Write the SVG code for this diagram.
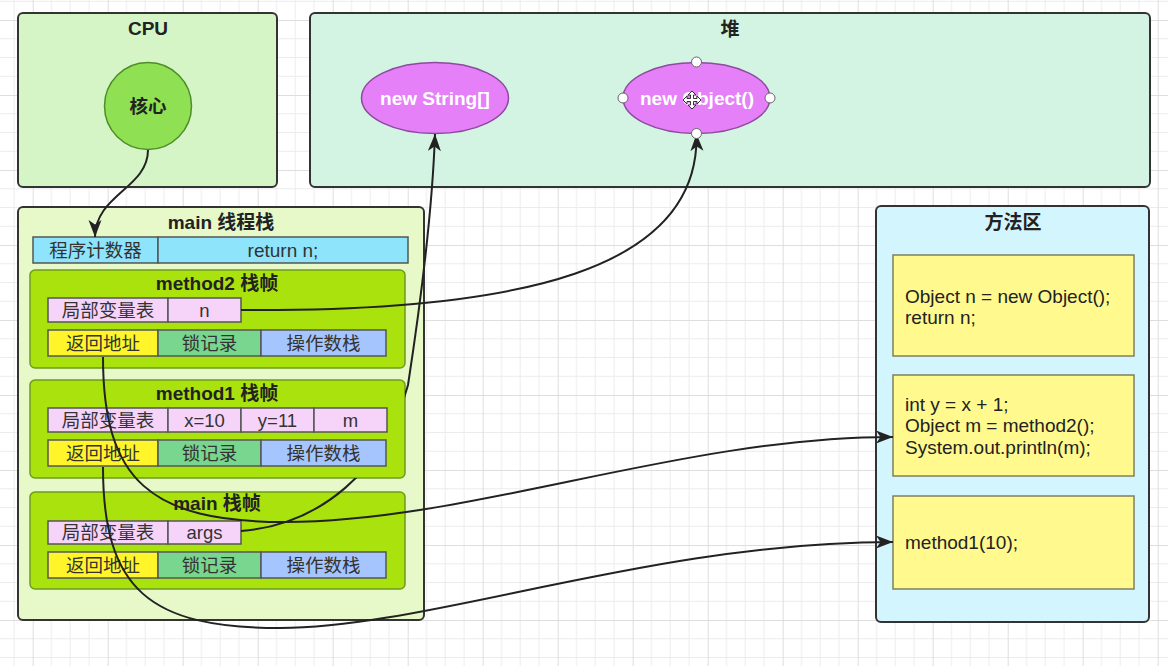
<svg xmlns="http://www.w3.org/2000/svg" width="1168" height="666" viewBox="0 0 1168 666">
<defs>
<pattern id="grid" x="32.7" y="20" width="75" height="75" patternUnits="userSpaceOnUse">
<path d="M18.75,0V75M37.5,0V75M56.25,0V75M0,18.75H75M0,37.5H75M0,56.25H75" stroke="#ececec" stroke-width="1" fill="none"/>
<path d="M0.5,0V75M0,0.5H75" stroke="#dedede" stroke-width="1" fill="none"/>
</pattern>
<marker id="arr" markerWidth="18" markerHeight="14" refX="17" refY="6.5" orient="auto" markerUnits="userSpaceOnUse">
<path d="M0,0 L17,6.5 L0,13 L4.5,6.5 z" fill="#222"/>
</marker>
<mask id="hideM1" maskUnits="userSpaceOnUse" x="0" y="0" width="1168" height="666">
<rect x="0" y="0" width="1168" height="666" fill="#fff"/>
<rect x="30" y="380" width="375" height="98" fill="#000"/>
</mask>
<style>
text{font-family:"Liberation Sans","Noto Sans CJK SC",sans-serif;fill:#333;dominant-baseline:central;text-anchor:middle}
.t{font-weight:bold;font-size:19px;fill:#222}
.c{font-size:18.5px}
.code{font-size:19px;text-anchor:start;fill:#222}
.box{stroke:#333;stroke-width:2}
.frame{fill:#aae20d;stroke:#6e9c1c;stroke-width:1.5}
.cell{stroke:#555;stroke-width:1.5}
.pink{fill:#f6d4f9}
.yel{fill:#fff52a}
.grn{fill:#78d68f}
.blu{fill:#a4c5fd}
.codebox{fill:#fff98e;stroke:#7f7f60;stroke-width:1.5}
.ell{fill:#e680f8;stroke:#8e4a9e;stroke-width:1.5}
.et{font-weight:bold;font-size:19px;fill:#fff}
.conn{fill:none;stroke:#222;stroke-width:2}
.handle{fill:#fff;stroke:#666;stroke-width:1}
</style>
</defs>
<rect x="0" y="0" width="1168" height="666" fill="#fff"/>
<rect x="0" y="0" width="1168" height="666" fill="url(#grid)"/>

<g id="cpu">
<rect class="box" x="18" y="13" width="259" height="174" rx="5" fill="#d5f5c6"/>
<text class="t" x="148" y="28" font-size="18">CPU</text>
</g>
<g id="core">
<circle cx="148" cy="106" r="43.5" fill="#8fe053" stroke="#4f8c2a" stroke-width="1.5"/>
<text class="t" x="148" y="106" style="font-size:18.5px">核心</text>
</g>

<g id="heap">
<rect class="box" x="310" y="13" width="840" height="174" rx="5" fill="#d3f3e3"/>
<text class="t" x="730" y="29">堆</text>
</g>
<g id="new-string">
<ellipse class="ell" cx="435" cy="98" rx="73.5" ry="35.5"/>
<text class="et" x="435" y="98">new String[]</text>
</g>
<g id="new-object">
<ellipse class="ell" cx="696.5" cy="98" rx="73.5" ry="35.5"/>
<text class="et" x="697" y="98">new Object()</text>
</g>

<g id="main-thread-stack">
<rect class="box" x="18" y="207" width="406" height="413" rx="5" fill="#e7f8c9"/>
<text class="t" x="221" y="222">main 线程栈</text>
</g>
<g id="pc">
<rect class="cell" x="33" y="237" width="125" height="26" fill="#8ee4fb"/>
<rect class="cell" x="158" y="237" width="250" height="26" fill="#8ee4fb"/>
<text class="c" x="95.5" y="250">程序计数器</text>
<text class="c" x="283" y="250" style="font-size:19px">return n;</text>
</g>

<g id="method2-frame">
<rect class="frame" x="30" y="270" width="375" height="98" rx="5"/>
<text class="t" x="217" y="283">method2 栈帧</text>
<rect class="cell pink" x="48" y="298" width="120" height="24"/>
<rect class="cell pink" x="168" y="298" width="73" height="24"/>
<text class="c" x="108" y="310">局部变量表</text>
<text class="c" x="204.5" y="310">n</text>
<rect class="cell yel" x="48" y="330" width="110" height="26"/>
<rect class="cell grn" x="158" y="330" width="103" height="26"/>
<rect class="cell blu" x="261" y="330" width="125" height="26"/>
<text class="c" x="103" y="343">返回地址</text>
<text class="c" x="209.5" y="343">锁记录</text>
<text class="c" x="323.5" y="343">操作数栈</text>
</g>

<g id="method1-frame">
<rect class="frame" x="30" y="380" width="375" height="98" rx="5"/>
<text class="t" x="217" y="393">method1 栈帧</text>
<rect class="cell pink" x="48" y="408" width="120" height="24"/>
<rect class="cell pink" x="168" y="408" width="73" height="24"/>
<rect class="cell pink" x="241" y="408" width="73" height="24"/>
<rect class="cell pink" x="314" y="408" width="73" height="24"/>
<text class="c" x="108" y="420">局部变量表</text>
<text class="c" x="204.5" y="420">x=10</text>
<text class="c" x="277.5" y="420">y=11</text>
<text class="c" x="350.5" y="420">m</text>
<rect class="cell yel" x="48" y="440" width="110" height="26"/>
<rect class="cell grn" x="158" y="440" width="103" height="26"/>
<rect class="cell blu" x="261" y="440" width="125" height="26"/>
<text class="c" x="103" y="453">返回地址</text>
<text class="c" x="209.5" y="453">锁记录</text>
<text class="c" x="323.5" y="453">操作数栈</text>
</g>

<g id="main-frame">
<rect class="frame" x="30" y="492" width="375" height="97" rx="5"/>
<text class="t" x="217" y="503">main 栈帧</text>
<rect class="cell pink" x="48" y="521" width="120" height="23"/>
<rect class="cell pink" x="168" y="521" width="73" height="23"/>
<text class="c" x="108" y="532.5">局部变量表</text>
<text class="c" x="204.5" y="532.5">args</text>
<rect class="cell yel" x="48" y="552" width="110" height="26"/>
<rect class="cell grn" x="158" y="552" width="103" height="26"/>
<rect class="cell blu" x="261" y="552" width="125" height="26"/>
<text class="c" x="103" y="565">返回地址</text>
<text class="c" x="209.5" y="565">锁记录</text>
<text class="c" x="323.5" y="565">操作数栈</text>
</g>

<g id="method-area">
<rect class="box" x="876" y="206" width="273" height="416" rx="5" fill="#d3f5fd"/>
<text class="t" x="1013" y="222">方法区</text>
</g>
<g id="code-method2">
<rect class="codebox" x="893" y="255" width="241" height="101"/>
<text class="code" x="905" y="296">Object n = new Object();</text>
<text class="code" x="905" y="317">return n;</text>
</g>
<g id="code-method1">
<rect class="codebox" x="893" y="375" width="241" height="101"/>
<text class="code" x="905" y="404">int y = x + 1;</text>
<text class="code" x="905" y="425.5">Object m = method2();</text>
<text class="code" x="905" y="447">System.out.println(m);</text>
</g>
<g id="code-main">
<rect class="codebox" x="893" y="496" width="241" height="93"/>
<text class="code" x="905" y="542">method1(10);</text>
</g>

<g id="connectors">
<path class="conn" d="M148,150 C148,188 95,195 95,237" marker-end="url(#arr)"/>
<path class="conn" d="M241,310 C520,312 700,270 696.5,134" marker-end="url(#arr)"/>
<path class="conn" mask="url(#hideM1)" d="M241,531 C320,525 385,470 408,385 C418,320 432,220 435,134" marker-end="url(#arr)"/>
<path class="conn" d="M103,357 C103,480 150,522 285,522 C470,522 680,437 893,437" marker-end="url(#arr)"/>
<path class="conn" d="M103,467 C103,590 150,628 280,628 C430,628 650,542 893,542" marker-end="url(#arr)"/>
</g>

<g id="selection-handles">
<circle class="handle" cx="696.5" cy="62" r="5"/>
<circle class="handle" cx="696.5" cy="133.5" r="5"/>
<circle class="handle" cx="623" cy="98" r="5"/>
<circle class="handle" cx="770" cy="98" r="5"/>
<polygon transform="translate(692,100)" points="0,-9 4,-5 1.5,-5 1.5,-1.5 5,-1.5 5,-4 9,0 5,4 5,1.5 1.5,1.5 1.5,5 4,5 0,9 -4,5 -1.5,5 -1.5,1.5 -5,1.5 -5,4 -9,0 -5,-4 -5,-1.5 -1.5,-1.5 -1.5,-5 -4,-5" fill="#fff" stroke="#333" stroke-width="1"/>
</g>
</svg>
